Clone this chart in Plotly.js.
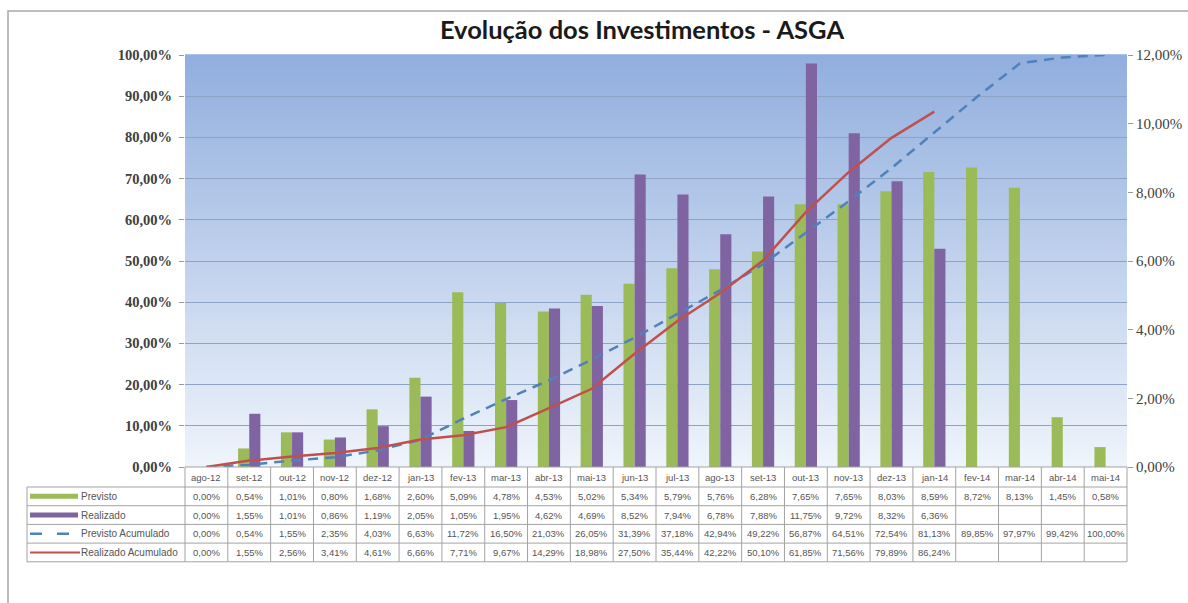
<!DOCTYPE html>
<html><head><meta charset="utf-8">
<script src="https://cdn.plot.ly/plotly-3.0.1.min.js"></script>
<style>body{margin:0;background:#fff}#chart{width:1188px;height:603px}</style>
</head><body><div id="chart"></div>
<script>
// ---- data ----
const months = ['ago-12','set-12','out-12','nov-12','dez-12','jan-13','fev-13','mar-13','abr-13','mai-13','jun-13','jul-13','ago-13','set-13','out-13','nov-13','dez-13','jan-14','fev-14','mar-14','abr-14','mai-14'];
const previsto = [0.00,0.54,1.01,0.80,1.68,2.60,5.09,4.78,4.53,5.02,5.34,5.79,5.76,6.28,7.65,7.65,8.03,8.59,8.72,8.13,1.45,0.58];
const realizado = [0.00,1.55,1.01,0.86,1.19,2.05,1.05,1.95,4.62,4.69,8.52,7.94,6.78,7.88,11.75,9.72,8.32,6.36,null,null,null,null];
const previstoAcum = [0.00,0.54,1.55,2.35,4.03,6.63,11.72,16.50,21.03,26.05,31.39,37.18,42.94,49.22,56.87,64.51,72.54,81.13,89.85,97.97,99.42,100.00];
const realizadoAcum = [0.00,1.55,2.56,3.41,4.61,6.66,7.71,9.67,14.29,18.98,27.50,35.44,42.22,50.10,61.85,71.56,79.89,86.24,null,null,null,null];
const seriesNames = ['Previsto','Realizado','Previsto Acumulado','Realizado Acumulado'];
const chartTitle = 'Evolução dos Investimentos - ASGA';

// ---- styles / geometry ----
const C_GREEN = '#9bbb59', C_PURPLE = '#8064a2', C_BLUE = '#4f81bd', C_RED = '#c0504d';
const L = 185, R = 1127, T = 55, B = 467, W = R - L, H = B - T;
const px2x = p => (p - L) / W;
const px2y = p => (B - p) / H;
const fmt = v => (v === null || v === undefined) ? '' : v.toFixed(2).replace('.', ',') + '%';

const shapes = [];
// gradient background
const NB = 80, gTop = [145, 174, 222], gBot = [239, 244, 251];
for (let k = 0; k < NB; k++) {
  const t = (k + 0.5) / NB;
  const c = gTop.map((a, j) => Math.round(a + (gBot[j] - a) * t));
  shapes.push({type: 'rect', xref: 'paper', yref: 'paper', x0: 0, x1: 1,
    y0: 1 - (k + 1) / NB, y1: 1 - k / NB + 0.002, layer: 'below',
    fillcolor: `rgb(${c[0]},${c[1]},${c[2]})`, line: {width: 0}});
}
// outer frame
shapes.push({type: 'rect', xref: 'paper', yref: 'paper', x0: px2x(8), x1: px2x(1230), y0: px2y(660), y1: px2y(11),
  line: {color: '#a8a8a8', width: 1.5}, fillcolor: 'rgba(0,0,0,0)'});
// table grid
const TL = '#a3a3a3';
const rowY = [467, 487, 505.7, 524.4, 543.1, 561.8];
shapes.push({type: 'line', xref: 'paper', yref: 'paper', x0: 0, x1: 1, y0: px2y(467), y1: px2y(467), line: {color: TL, width: 1}});
for (let r = 1; r < rowY.length; r++) {
  shapes.push({type: 'line', xref: 'paper', yref: 'paper', x0: px2x(27), x1: 1, y0: px2y(rowY[r]), y1: px2y(rowY[r]), line: {color: TL, width: 1}});
}
for (let i = 0; i <= months.length; i++) {
  shapes.push({type: 'line', xref: 'paper', yref: 'paper', x0: i / months.length, x1: i / months.length, y0: px2y(467), y1: px2y(561.8), line: {color: TL, width: 1}});
}
shapes.push({type: 'line', xref: 'paper', yref: 'paper', x0: px2x(27), x1: px2x(27), y0: px2y(487), y1: px2y(561.8), line: {color: TL, width: 1}});
// legend swatches in table
const rowMid = [496.3, 515, 533.7, 552.4];
shapes.push({type: 'line', xref: 'paper', yref: 'paper', x0: px2x(30), x1: px2x(78), y0: px2y(rowMid[0]), y1: px2y(rowMid[0]), line: {color: C_GREEN, width: 5}});
shapes.push({type: 'line', xref: 'paper', yref: 'paper', x0: px2x(30), x1: px2x(78), y0: px2y(rowMid[1]), y1: px2y(rowMid[1]), line: {color: C_PURPLE, width: 5}});
shapes.push({type: 'line', xref: 'paper', yref: 'paper', x0: px2x(30), x1: px2x(72), y0: px2y(rowMid[2]), y1: px2y(rowMid[2]), line: {color: C_BLUE, width: 2.5, dash: '12px,15px'}});
shapes.push({type: 'line', xref: 'paper', yref: 'paper', x0: px2x(30), x1: px2x(80), y0: px2y(rowMid[3]), y1: px2y(rowMid[3]), line: {color: C_RED, width: 2}});

// table text
const annotations = [];
const tfont = {family: 'Liberation Sans, Arial, sans-serif', size: 9.5, color: '#555555'};
const rows = [previsto, realizado, previstoAcum, realizadoAcum];
months.forEach((m, i) => {
  annotations.push({xref: 'x', yref: 'paper', x: m, y: px2y(477), text: m, showarrow: false, font: tfont, xanchor: 'center', yanchor: 'middle'});
  rows.forEach((arr, r) => {
    annotations.push({xref: 'x', yref: 'paper', x: m, y: px2y(rowMid[r]), text: fmt(arr[i]), showarrow: false, font: tfont, xanchor: 'center', yanchor: 'middle'});
  });
});
seriesNames.forEach((n, r) => {
  annotations.push({xref: 'paper', yref: 'paper', x: px2x(79), y: px2y(rowMid[r]), text: n, showarrow: false,
    font: {family: 'Liberation Sans, Arial, sans-serif', size: 10, color: '#555555'}, xanchor: 'left', yanchor: 'middle'});
});

const traces = [
  {type: 'bar', name: seriesNames[0], x: months, y: previsto, marker: {color: C_GREEN}, yaxis: 'y'},
  {type: 'bar', name: seriesNames[1], x: months, y: realizado, marker: {color: C_PURPLE}, yaxis: 'y'},
  {type: 'scatter', mode: 'lines', name: seriesNames[2], x: months, y: previstoAcum, yaxis: 'y2',
    line: {color: C_BLUE, width: 2.5, dash: '10px,7px'}, connectgaps: false},
  {type: 'scatter', mode: 'lines', name: seriesNames[3], x: months, y: realizadoAcum, yaxis: 'y2',
    line: {color: C_RED, width: 2.5}, connectgaps: false}
];

const layout = {
  width: 1188, height: 603,
  margin: {l: L, r: 1188 - R, t: T, b: 603 - B, pad: 0},
  paper_bgcolor: '#ffffff', plot_bgcolor: '#ffffff',
  separators: ',.',
  showlegend: false,
  barmode: 'group', bargap: 0.48, bargroupgap: 0,
  title: {text: chartTitle, x: 642 / 1188, xref: 'container', xanchor: 'center', y: 1 - 30 / 603, yref: 'container', yanchor: 'middle',
    font: {family: 'Lato, Open Sans, sans-serif', size: 25.5, weight: 'bold', color: '#1a1a1a'}},
  xaxis: {type: 'category', range: [-0.5, months.length - 0.5], showticklabels: false, showgrid: false, zeroline: false, showline: false, ticks: ''},
  yaxis: {side: 'right', range: [0, 12], dtick: 2, tickformat: '.2f', ticksuffix: '%', showgrid: false, zeroline: false, showline: false,
    ticks: 'outside', ticklen: 5, tickcolor: '#999999',
    tickfont: {family: 'Liberation Serif, serif', size: 15, color: '#404040'}},
  yaxis2: {overlaying: 'y', side: 'left', range: [0, 100], dtick: 10, tickformat: '.2f', ticksuffix: '%',
    showgrid: true, gridcolor: '#8da3c5', gridwidth: 1, zeroline: false, showline: false,
    ticks: 'outside', ticklen: 5, tickcolor: '#999999', ticklabelstandoff: 4,
    tickfont: {family: 'Liberation Serif, serif', size: 14.5, weight: 'bold', color: '#404040'}},
  shapes: shapes,
  annotations: annotations
};

Plotly.newPlot('chart', traces, layout, {staticPlot: true, displayModeBar: false});
</script>
</body></html>
